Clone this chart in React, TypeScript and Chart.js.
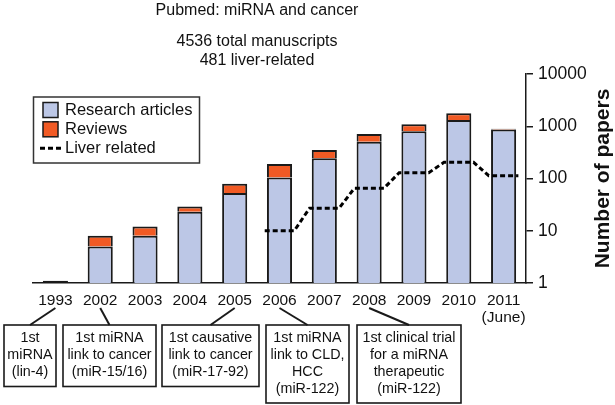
import React, { useEffect, useRef } from 'react';
import { Chart, registerables } from 'chart.js';

Chart.register(...registerables);

const FONT = '"Liberation Sans", Arial, Helvetica, sans-serif';

// ---- data ----
const categoryLabels: (string | string[])[] = ['1993', '2002', '2003', '2004', '2005', '2006', '2007', '2008', '2009', '2010', ['2011', '(June)']];
const researchArticles: (number | null)[] = [1.1, 5, 8, 23, 53, 105, 244, 506, 800, 1320, 870];
const reviews: (number | null)[] = [null, 3, 4, 6, 26, 84, 107, 205, 290, 450, 25];
const liverRelated: (number | null)[] = [null, null, null, null, null, 10, 27, 65, 129, 204, 113];
const yTicks = [1, 10, 100, 1000, 10000];

const titleLines = ['Pubmed: miRNA and cancer', '4536 total manuscripts', '481 liver-related'];
const yTitle = 'Number of papers';

const milestoneIndex = [0, 1, 4, 5, 7];
const milestoneTexts: string[][] = [
  ['1st', 'miRNA', '(lin-4)'],
  ['1st miRNA', 'link to cancer', '(miR-15/16)'],
  ['1st causative', 'link to cancer', '(miR-17-92)'],
  ['1st miRNA', 'link to CLD,', 'HCC', '(miR-122)'],
  ['1st clinical trial', 'for a miRNA', 'therapeutic', '(miR-122)'],
];

const BLUE = '#bcc7e6';
const ORANGE = '#f15a24';
const DARK = '#1a1a1a';

const overlayPlugin = {
  id: 'overlay',
  afterDraw(chart: any) {
    const ctx: CanvasRenderingContext2D = chart.ctx;
    const xs = chart.scales.x;
    ctx.save();
    ctx.fillStyle = '#111';
    ctx.textAlign = 'center';
    ctx.textBaseline = 'middle';
    ctx.font = `16px ${FONT}`;
    ctx.fillText(titleLines[0], 257, 11);
    ctx.fillText(titleLines[1], 257, 42);
    ctx.fillText(titleLines[2], 257, 61);

    // y axis title (bottom-to-top)
    ctx.save();
    ctx.translate(603, 178.5);
    ctx.rotate(-Math.PI / 2);
    ctx.font = `bold 21px ${FONT}`;
    ctx.fillText(yTitle, 0, 0);
    ctx.restore();

    // legend
    const ds = chart.data.datasets;
    ctx.lineWidth = 1.5;
    ctx.strokeStyle = '#333';
    ctx.strokeRect(33.5, 97, 166, 66);
    const rows = [110, 129.3, 148.3];
    const legendOrder = [1, 2, 0];
    ctx.textAlign = 'left';
    ctx.font = `16.5px ${FONT}`;
    legendOrder.forEach((di, r) => {
      const d = ds[di];
      const y = rows[r];
      if (d.type === 'line') {
        ctx.save();
        ctx.strokeStyle = d.borderColor;
        ctx.lineWidth = 3;
        ctx.setLineDash([5, 3]);
        ctx.beginPath();
        ctx.moveTo(40, y);
        ctx.lineTo(61, y);
        ctx.stroke();
        ctx.restore();
      } else {
        ctx.fillStyle = d.legendColor;
        ctx.fillRect(43, y - 7.5, 15, 15);
        ctx.strokeStyle = DARK;
        ctx.lineWidth = 1.5;
        ctx.strokeRect(43, y - 7.5, 15, 15);
      }
      ctx.fillStyle = '#111';
      ctx.fillText(d.label, 65, y + 0.5);
    });

    // milestones
    const boxLeft = [4, 63, 162, 266, 357];
    const boxRight = [56, 156, 259, 349, 461];
    const boxTop = 325;
    ctx.font = `14.3px ${FONT}`;
    ctx.textAlign = 'center';
    milestoneIndex.forEach((ci, k) => {
      const lx = xs.getPixelForValue(ci);
      const l = boxLeft[k];
      const r = boxRight[k];
      const cx = (l + r) / 2;
      const lines = milestoneTexts[k];
      const h = 12 + lines.length * 16.5;
      ctx.strokeStyle = DARK;
      ctx.lineWidth = 2;
      ctx.beginPath();
      ctx.moveTo(lx, 308);
      ctx.lineTo(cx, boxTop);
      ctx.stroke();
      ctx.lineWidth = 1.6;
      ctx.strokeRect(l, boxTop, r - l, h);
      ctx.fillStyle = '#111';
      lines.forEach((t, i) => ctx.fillText(t, cx, boxTop + 13.5 + i * 16.7));
    });
    ctx.restore();
  },
};

export default function App() {
  const ref = useRef<HTMLCanvasElement | null>(null);
  useEffect(() => {
    if (!ref.current) return;
    const liverPoints: { x: number; y: number }[] = [];
    liverRelated.forEach((v, i) => {
      if (v != null) {
        liverPoints.push({ x: i - 0.33, y: v });
        liverPoints.push({ x: i + 0.33, y: v });
      }
    });
    const barCommon = {
      type: 'bar',
      borderColor: DARK,
      borderWidth: 2,
      borderSkipped: 'start',
      barPercentage: 0.56,
      categoryPercentage: 1,
      grouped: false,
      stack: 'papers',
      order: 1,
    };
    // bars that are only a sliver tall render as a dark outline, as in the source
    const fillFor = (color: string) => (c: any) => {
      const v = c.raw;
      return typeof v === 'number' && v < 2 ? DARK : color;
    };
    const chart = new Chart(ref.current, {
      type: 'bar',
      data: {
        labels: categoryLabels as any,
        datasets: [
          {
            type: 'line',
            label: 'Liver related',
            data: liverPoints as any,
            xAxisID: 'x2',
            yAxisID: 'y',
            stack: 'papers',
            borderColor: '#000',
            borderWidth: 3,
            borderDash: [5, 3],
            pointRadius: 0,
            fill: false,
            tension: 0,
            order: 0,
          } as any,
          { ...barCommon, label: 'Research articles', data: researchArticles as any, backgroundColor: fillFor(BLUE), legendColor: BLUE } as any,
          { ...barCommon, label: 'Reviews', data: reviews as any, backgroundColor: fillFor(ORANGE), legendColor: ORANGE } as any,
        ],
      },
      options: {
        responsive: false,
        animation: false,
        layout: { padding: { left: 33, top: 74, right: 0, bottom: 0 } },
        plugins: { legend: { display: false }, title: { display: false }, tooltip: { enabled: false } },
        scales: {
          x: {
            type: 'category',
            stacked: true,
            offset: true,
            grid: { display: false, drawTicks: false },
            border: { display: true, color: DARK, width: 1.5 },
            ticks: { color: '#111', font: { family: FONT, size: 15.5, lineHeight: 1.1 }, padding: 9, maxRotation: 0, autoSkip: false },
            afterFit: (s: any) => { s.height = 122; s.paddingLeft = 0; s.paddingRight = 0; },
          },
          x2: {
            type: 'linear',
            display: false,
            min: -0.5,
            max: 10.5,
            offset: false,
          },
          y: {
            type: 'logarithmic',
            position: 'right',
            stacked: true,
            min: 1,
            max: 10000,
            grid: { display: true, drawOnChartArea: false, drawTicks: true, tickLength: 7, color: DARK, lineWidth: 1.5 },
            border: { display: true, color: DARK, width: 1.5 },
            afterBuildTicks: (s: any) => { s.ticks = yTicks.map((v) => ({ value: v })); },
            ticks: { color: '#111', font: { family: FONT, size: 17.5 }, padding: 5, callback: (v: any) => String(v) },
            afterFit: (s: any) => { s.width = 89; s.paddingTop = 0; s.paddingBottom = 0; },
          },
        },
      } as any,
      plugins: [overlayPlugin],
    });
    return () => chart.destroy();
  }, []);
  return (
    <div style={{ position: 'fixed', left: 0, top: 0, width: 615, height: 405, background: '#fff' }}>
      <canvas ref={ref} width={615} height={405} style={{ display: 'block', width: 615, height: 405 }} />
    </div>
  );
}
